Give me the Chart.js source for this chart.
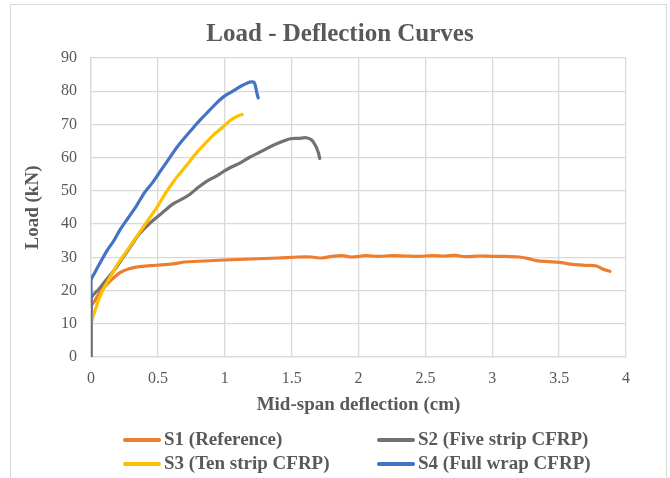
<!DOCTYPE html>
<html>
<head>
<meta charset="utf-8">
<script src="https://cdn.jsdelivr.net/npm/chart.js@4"></script>
<style>
  html, body { margin: 0; padding: 0; background: #fff; }
  #wrap { position: relative; width: 670px; height: 478px; overflow: hidden; }
  #frame { position: absolute; left: 10px; top: 4px; width: 657px; height: 490px; border: 1px solid #d9d9d9; box-sizing: border-box; }
  #legend { position: absolute; left: 0; top: 428px; width: 670px; font-family: "Liberation Serif", "Times New Roman", serif; font-weight: bold; font-size: 19px; color: #595959; }
  .item { position: absolute; white-space: nowrap; line-height: 22px; }
  .item span.swatch { display: inline-block; width: 38px; height: 4px; border-radius: 2px; vertical-align: middle; margin-right: 3px; position: relative; top: -1px; }
</style>
</head>
<body>
<div id="wrap">
  <div id="frame"></div>
  <canvas id="chart" width="670" height="478"></canvas>
  <div id="legend"></div>
</div>
<script>
// Datos (deflexión en cm, carga en kN)
const seriesNames = ["S1 (Reference)", "S2 (Five strip CFRP)", "S3 (Ten strip CFRP)", "S4 (Full wrap CFRP)"];
const seriesColors = ["#ED7D31", "#757171", "#FFC000", "#4472C4"];

const s1X = [0, 0, 0.03, 0.06, 0.1, 0.16, 0.22, 0.28, 0.36, 0.45, 0.55, 0.64, 0.7, 0.85, 1.0, 1.2, 1.4, 1.55, 1.65, 1.72, 1.8, 1.88, 1.95, 2.05, 2.15, 2.25, 2.35, 2.45, 2.55, 2.65, 2.72, 2.8, 2.9, 3.0, 3.1, 3.2, 3.27, 3.33, 3.42, 3.5, 3.6, 3.7, 3.78, 3.83, 3.88];
const s1Y = [0, 15, 17, 19, 21, 23.5, 25.5, 26.5, 27.2, 27.5, 27.8, 28.2, 28.6, 28.9, 29.2, 29.5, 29.8, 30.1, 30.1, 29.8, 30.3, 30.5, 30.1, 30.5, 30.3, 30.5, 30.4, 30.3, 30.5, 30.4, 30.6, 30.2, 30.4, 30.3, 30.3, 30.1, 29.6, 29.0, 28.7, 28.5, 27.9, 27.6, 27.4, 26.4, 25.8];

const s2X = [0, 0, 0.06, 0.11, 0.18, 0.24, 0.3, 0.36, 0.42, 0.49, 0.55, 0.61, 0.68, 0.74, 0.8, 0.87, 0.93, 0.99, 1.05, 1.12, 1.19, 1.27, 1.34, 1.42, 1.49, 1.55, 1.61, 1.65, 1.68, 1.7, 1.71];
const s2Y = [0, 17.5, 20.5, 23, 26.5, 30, 33.5, 37, 39.5, 42, 44, 46, 47.5, 49, 51, 53, 54.3, 55.8, 57.2, 58.5, 60.2, 61.8, 63.3, 64.7, 65.7, 65.8, 66, 65.3, 63.5, 61.5, 59.8];

const s3X = [0, 0, 0.01, 0.03, 0.06, 0.1, 0.15, 0.2, 0.26, 0.32, 0.38, 0.44, 0.5, 0.56, 0.62, 0.68, 0.74, 0.8, 0.86, 0.92, 0.98, 1.04, 1.09, 1.13];
const s3Y = [0, 9, 11.5, 14, 17.5, 21, 24.5, 28, 31.5, 35, 38.5, 42, 45.5, 49.5, 53, 56, 59, 62, 64.5, 67, 69, 71.2, 72.4, 73];

const s4X = [0, 0, 0.03, 0.07, 0.12, 0.17, 0.22, 0.28, 0.34, 0.4, 0.46, 0.52, 0.58, 0.64, 0.7, 0.76, 0.82, 0.88, 0.94, 1.0, 1.06, 1.12, 1.17, 1.2, 1.22, 1.23, 1.24, 1.25];
const s4Y = [0, 23, 25.5, 28.5, 32, 35, 38.5, 42, 45.5, 49.5, 52.5, 56, 59.5, 63, 66, 68.8, 71.5, 74, 76.5, 78.6, 80, 81.5, 82.5, 82.8, 82.6, 81.5, 79.5, 78];

const xTickValues = [0, 0.5, 1, 1.5, 2, 2.5, 3, 3.5, 4];
const yTickValues = [0, 10, 20, 30, 40, 50, 60, 70, 80, 90];

const chartTitle = "Load - Deflection Curves";
const xTitle = "Mid-span deflection (cm)";
const yTitle = "Load (kN)";

const fontFamily = '"Liberation Serif", "Times New Roman", serif';
const textColor = "#595959";
const gridColor = "#d9d9d9";

function toPoints(xs, ys) {
    return xs.map((x, i) => ({ x: x, y: ys[i] }));
}

const allX = [s1X, s2X, s3X, s4X];
const allY = [s1Y, s2Y, s3Y, s4Y];

const datasets = seriesNames.map((name, i) => ({
    label: name,
    data: toPoints(allX[i], allY[i]),
    borderColor: seriesColors[i],
    backgroundColor: seriesColors[i],
    borderWidth: 3.2,
    pointRadius: 0,
    tension: 0.3,
    borderCapStyle: "round",
    borderJoinStyle: "round",
    fill: false,
    order: 4 - i   // S4 encima, como en Excel
}));

new Chart(document.getElementById("chart").getContext("2d"), {
    type: "line",
    data: { datasets: datasets },
    options: {
        responsive: false,
        animation: false,
        layout: { padding: { left: 10, right: 0, top: 8, bottom: 58 } },
        plugins: {
            legend: { display: false },
            tooltip: { enabled: false },
            title: {
                display: true,
                text: chartTitle,
                color: textColor,
                font: { family: fontFamily, size: 25, weight: "bold" },
                padding: { top: 12, bottom: 8 }
            }
        },
        scales: {
            x: {
                type: "linear",
                min: 0,
                max: 4,
                afterBuildTicks: scale => { scale.ticks = xTickValues.map(v => ({ value: v })); },
                afterFit: scale => { scale.height = 63; },
                ticks: {
                    color: textColor,
                    font: { family: fontFamily, size: 16 },
                    padding: 12,
                    maxRotation: 0,
                    callback: v => String(v)
                },
                grid: { color: gridColor, lineWidth: 1.3, drawTicks: false },
                border: { color: gridColor, width: 1.3 },
                title: {
                    display: true,
                    text: xTitle,
                    color: textColor,
                    font: { family: fontFamily, size: 19, weight: "bold" },
                    padding: { top: 2 }
                }
            },
            y: {
                type: "linear",
                min: 0,
                max: 90,
                afterBuildTicks: scale => { scale.ticks = yTickValues.map(v => ({ value: v })); },
                afterFit: scale => { scale.width = 81; },
                ticks: {
                    color: textColor,
                    font: { family: fontFamily, size: 16 },
                    padding: 14,
                    callback: v => String(v)
                },
                grid: { color: gridColor, lineWidth: 1.3, drawTicks: false },
                border: { color: gridColor, width: 1.3 },
                title: {
                    display: true,
                    text: yTitle,
                    color: textColor,
                    font: { family: fontFamily, size: 19, weight: "bold" },
                    padding: { top: 12, bottom: 4 }
                }
            },
            // eje vacío a la derecha para dejar el margen del área de trazado
            rightGap: {
                type: "linear",
                position: "right",
                display: true,
                afterFit: scale => { scale.width = 44; },
                grid: { display: false },
                ticks: { display: false },
                border: { display: false }
            }
        }
    }
});

// Leyenda en dos columnas, como en el original
const legendPos = [[123, 0], [377, 0], [123, 24], [377, 24]];
const legend = document.getElementById("legend");
seriesNames.forEach((name, i) => {
    const div = document.createElement("div");
    div.className = "item";
    div.style.left = legendPos[i][0] + "px";
    div.style.top = legendPos[i][1] + "px";
    div.innerHTML = `<span class="swatch" style="background:${seriesColors[i]}"></span>${name}`;
    legend.appendChild(div);
});
</script>
</body>
</html>
